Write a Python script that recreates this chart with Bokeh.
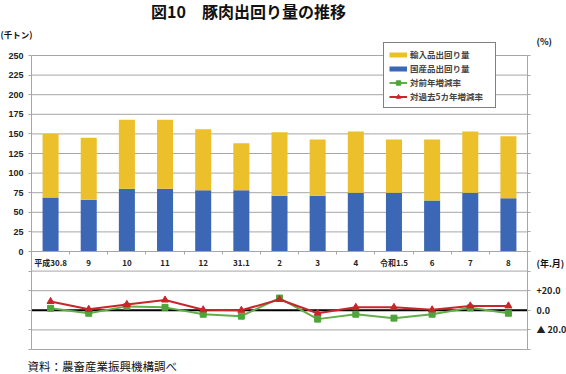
from bokeh.plotting import figure
from bokeh.models import (ColumnDataSource, Range1d, LinearAxis, FixedTicker,
                          Legend, LegendItem, Label)
from bokeh.embed import file_html
from bokeh.resources import INLINE

# ---------------- data ----------------
categories = ["平成30.8", "9", "10", "11", "12", "31.1", "2", "3", "4", "令和1.5", "6", "7", "8"]
domestic = [69, 66, 80, 80, 78, 78, 71, 71, 75, 75, 65, 75, 68]      # 国産品出回り量 (千トン)
imported = [81, 79, 88, 88, 78, 60, 81, 72, 78, 68, 78, 78, 79]      # 輸入品出回り量 (千トン)
yoy = [2, -3, 4, 3, -4, -6, 12.5, -9, -4, -8, -4, 2.5, -3]           # 対前年増減率 (%)
vs5y = [9, 1, 6, 10.5, 0.5, 0, 11, -3, 3, 3, 0.5, 4.5, 4.5]          # 対過去5カ年増減率 (%)
left_ticks = list(range(-125, 251, 25))
right_ticks = list(range(-40, 261, 20))
right_labels = {20: "+20.0", 0: "0.0", -20: "▲ 20.0"}

BLUE = "#3c67b4"
YELLOW = "#ebc02b"
GREEN = "#63ad4b"
GREEN_M = "#4ea43a"
RED = "#c8262b"
GRID = "#a6a6a6"
FONT = "Noto Sans CJK JP"
NUMFONT = "Liberation Sans"

W, H = 566, 374
# page geometry of the chart area (pixels)
FL, FR = 31, 527          # x = -0.5 .. 12.5
FT, FB = 55, 349          # main y = 250 .. -125
XA, XB = -0.5, len(categories) - 0.5
YA, YB = -125, 250


def fx(px):
    return XA + (px - FL) / (FR - FL) * (XB - XA)


def fy(py):
    return YB - (py - FT) / (FB - FT) * (YB - YA)


def to_pct(v):
    return (v + 75) / 1.25


idx = list(range(len(categories)))
src = ColumnDataSource(dict(x=idx, domestic=domestic, imported=imported, yoy=yoy, vs5y=vs5y))

p = figure(width=W, height=H, x_range=Range1d(fx(0), fx(W)), y_range=Range1d(fy(H), fy(0)),
           output_backend="svg", toolbar_location=None, title=None,
           x_axis_location=None, y_axis_location=None,
           min_border_left=0, min_border_right=0, min_border_top=0, min_border_bottom=0,
           background_fill_color="white", border_fill_color="white", outline_line_color=None)
p.extra_y_ranges = {"pct": Range1d(to_pct(fy(H)), to_pct(fy(0)))}
p.grid.visible = False

# horizontal grid lines of the chart area
grid_y = [t for t in left_ticks if t not in (0, -75)]
grid_src = ColumnDataSource(dict(y=grid_y, x0=[XA] * len(grid_y), x1=[XB] * len(grid_y)))
p.segment(x0="x0", x1="x1", y0="y", y1="y", source=grid_src, line_color=GRID, line_width=1)
zero_src = ColumnDataSource(dict(x0=[XA], x1=[XB], y=[0]))
p.segment(x0="x0", x1="x1", y0="y", y1="y", source=zero_src, y_range_name="pct",
          line_color="black", line_width=2)

# axes
xaxis = LinearAxis(ticker=FixedTicker(ticks=idx, minor_ticks=[i + 0.5 for i in idx[:-1]]),
                   fixed_location=0, bounds=(XA, XB),
                   major_label_overrides={i: c for i, c in enumerate(categories)},
                   major_tick_out=0, major_tick_in=0, minor_tick_out=3, minor_tick_in=0,
                   minor_tick_line_color=GRID, axis_line_color=GRID,
                   major_label_standoff=2, major_label_text_font=FONT,
                   major_label_text_font_size="8px", major_label_text_font_style="bold",
                   major_label_text_color="#222222")
p.add_layout(xaxis, "below")

yaxis_l = LinearAxis(ticker=FixedTicker(ticks=left_ticks), fixed_location=XA, bounds=(YA, YB),
                     major_label_overrides={t: ("" if t < 0 else str(t)) for t in left_ticks},
                     major_tick_out=3, major_tick_in=0, axis_line_color=GRID,
                     major_tick_line_color=GRID, major_label_standoff=5,
                     major_label_text_font=NUMFONT, major_label_text_font_size="9px",
                     major_label_text_font_style="bold", major_label_text_color="#222222")
p.add_layout(yaxis_l, "left")

yaxis_r = LinearAxis(y_range_name="pct", ticker=FixedTicker(ticks=right_ticks),
                     fixed_location=XB, bounds=(to_pct(YA), to_pct(YB)),
                     major_label_overrides={t: right_labels.get(t, "") for t in right_ticks},
                     major_tick_out=3, major_tick_in=0, axis_line_color=GRID,
                     major_tick_line_color=GRID, major_label_standoff=6,
                     major_label_text_font=FONT, major_label_text_font_size="9px",
                     major_label_text_font_style="bold", major_label_text_color="#222222")
p.add_layout(yaxis_r, "right")

# bars
p.vbar_stack(["domestic", "imported"], x="x", width=0.42, fill_color=[BLUE, YELLOW],
             line_color=None, source=src)

# lines
g_line = p.line("x", "yoy", source=src, y_range_name="pct", line_color=GREEN, line_width=2)
g_mark = p.scatter("x", "yoy", source=src, y_range_name="pct", marker="square", size=6,
                   fill_color=GREEN_M, line_color=GREEN_M)
r_line = p.line("x", "vs5y", source=src, y_range_name="pct", line_color=RED, line_width=2)
r_mark = p.scatter("x", "vs5y", source=src, y_range_name="pct", marker="triangle", size=7,
                   fill_color=RED, line_color=RED)

# legend swatches for the bars (nothing drawn in the chart itself)
nan = float("nan")
sw_y = p.line(x=[idx[0]], y=[nan], line_color=YELLOW, line_width=5, line_cap="butt")
sw_b = p.line(x=[idx[0]], y=[nan], line_color=BLUE, line_width=5, line_cap="butt")

legend = Legend(items=[
    LegendItem(label="輸入品出回り量", renderers=[sw_y]),
    LegendItem(label="国産品出回り量", renderers=[sw_b]),
    LegendItem(label="対前年増減率", renderers=[g_line, g_mark]),
    LegendItem(label="対過去5カ年増減率", renderers=[r_line, r_mark]),
], location=(383, H - 108), padding=5, spacing=2, margin=0, glyph_width=18, glyph_height=11,
    label_height=11, label_width=80, label_standoff=3,
    label_text_font=FONT, label_text_font_size="8.5px", label_text_font_style="bold",
    border_line_color="black", border_line_width=1, background_fill_color="white",
    background_fill_alpha=1.0)
p.add_layout(legend)


# texts
def add_label(px, py, text, size, align="left", baseline="middle", style="bold", font=FONT):
    p.add_layout(Label(x=fx(px), y=fy(py), text=text, text_align=align, text_baseline=baseline,
                       text_font=font, text_font_size=size, text_font_style=style,
                       text_color="#111111"))


add_label(248, 10, "図10　豚肉出回り量の推移", "16px", align="center")
add_label(0, 33, "(千トン)", "8.5px")
add_label(536, 41, "(%)", "9px")
add_label(536, 263, "(年.月)", "9px")
add_label(27, 365, "資料：農畜産業振興機構調べ", "11.5px", style="normal")

open("out.html", "w").write(file_html(p, INLINE))
